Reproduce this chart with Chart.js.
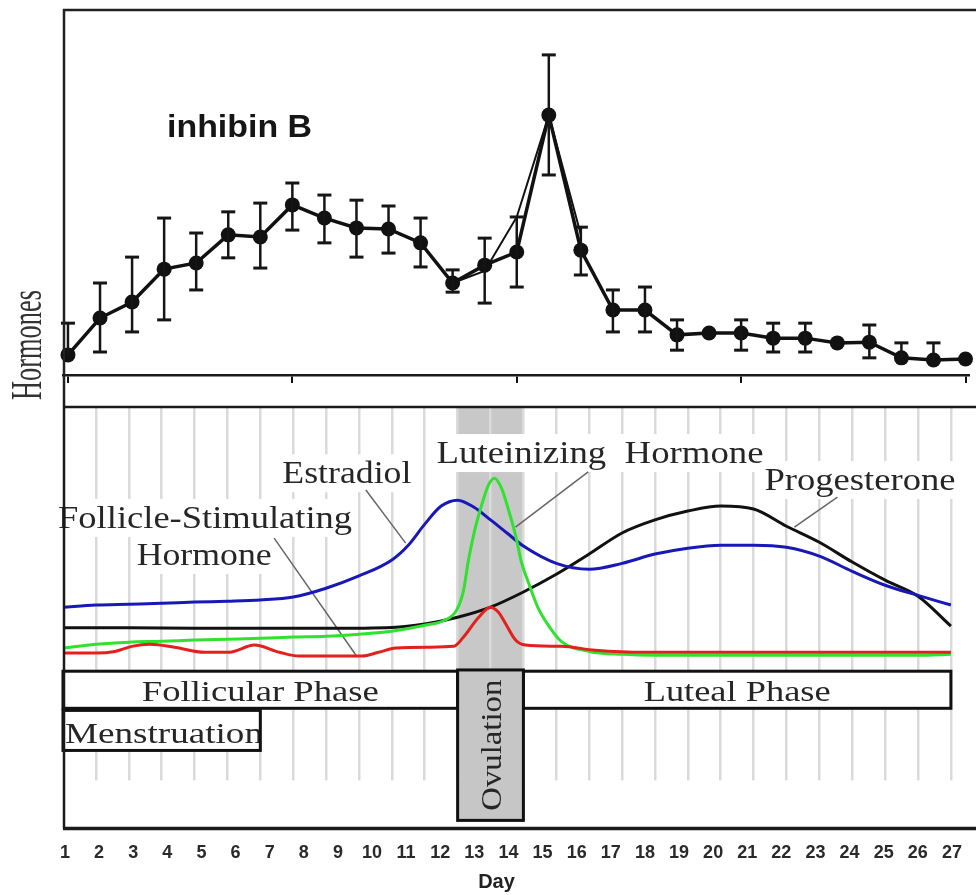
<!DOCTYPE html>
<html>
<head>
<meta charset="utf-8">
<title>Inhibin B and the menstrual cycle</title>
<script src="https://cdn.jsdelivr.net/npm/chart.js@4.4.1/dist/chart.umd.min.js"></script>
<style>
    html, body { margin: 0; padding: 0; background: #fff; overflow: hidden; }
    #wrap { position: relative; width: 976px; height: 895px; }
    canvas { position: absolute; left: 0; }
    #inhibinChart { top: 0; }
    #cycleChart { top: 400px; }
</style>
</head>
<body>
<div id="wrap">
    <canvas id="inhibinChart" width="976" height="400"></canvas>
    <canvas id="cycleChart" width="976" height="495"></canvas>
</div>
<script>
// ---- inhibin B (relative units), one sample per day ----
const inhibinDays = [0, 1, 2, 3, 4, 5, 6, 7, 8, 9, 10, 11, 12, 13, 14, 15, 16, 17, 18, 19, 20, 21, 22, 23, 24, 25, 26, 27, 28];
const inhibinMean = [5.5, 15.6, 20.0, 29.0, 30.7, 38.4, 37.8, 46.6, 43.0, 40.3, 40.0, 36.2, 25.2, 30.1, 33.7, 71.2, 34.2, 17.8, 17.8, 11.0, 11.5, 11.5, 10.1, 10.1, 8.8, 9.0, 4.7, 4.1, 4.4];
const inhibinUpper = [14.2, 25.2, 32.3, 43.0, 38.9, 44.7, 47.1, 52.6, 49.3, 47.9, 46.3, 43.0, 28.8, 37.5, 43.3, 87.7, 40.5, 23.3, 24.1, 15.1, null, 15.1, 14.2, 14.2, null, 13.7, 8.8, 8.8, null];
const inhibinLower = [5.5, 6.3, 11.8, 15.1, 23.3, 32.1, 29.3, 39.7, 36.2, 32.3, 33.4, 29.6, 22.7, 19.7, 24.1, 54.8, 27.4, 11.8, 11.8, 6.8, null, 6.8, 6.3, 6.3, null, 4.7, 4.7, 4.1, null];
// second trace drawn around the peak
const inhibinAlt = [null, null, null, null, null, null, null, null, null, null, null, null, 25.2, 28.5, 43.3, 71.2, 38.4];
const inhibinTicks = [0, 7, 14, 21, 28];

// ---- cycle panel ----
const cycleDays = [1, 2, 3, 4, 5, 6, 7, 8, 9, 10, 11, 12, 13, 14, 15, 16, 17, 18, 19, 20, 21, 22, 23, 24, 25, 26, 27];
const cycleGrid = [1, 2, 3, 4, 5, 6, 7, 8, 9, 10, 11, 12, 13, 14, 15, 16, 17, 18, 19, 20, 21, 22, 23, 24, 25, 26, 27];

const estradiolPos = [0, 1, 2, 3, 4, 5, 6, 7, 8, 9, 10, 10.5, 11, 11.5, 12, 12.5, 13, 13.5, 14, 15, 16, 17, 18, 19, 20, 21, 22, 23, 24, 25, 26, 27];
const estradiolLevel = [52.5, 53.0, 53.2, 53.4, 53.7, 53.9, 54.2, 54.9, 57.0, 59.9, 63.7, 67.2, 72.2, 76.5, 77.9, 76.2, 73.2, 70.1, 67.0, 62.9, 61.5, 62.9, 65.1, 66.5, 67.2, 67.2, 66.7, 64.6, 61.0, 57.7, 55.3, 53.0];

const lhPos = [0, 1, 2, 3, 4, 5, 6, 7, 8, 9, 10, 11, 11.6, 11.97, 12.18, 12.33, 12.52, 12.73, 12.94, 13.12, 13.33, 13.55, 13.76, 13.94, 14.15, 14.45, 14.76, 15.15, 16, 17, 18, 20, 22, 24, 26, 27];
const lhLevel = [42.8, 43.7, 44.2, 44.4, 44.7, 44.9, 45.1, 45.4, 45.6, 46.1, 46.8, 48.2, 49.4, 51.8, 56.5, 63.7, 70.8, 76.7, 81.5, 83.1, 80.8, 75.5, 69.6, 63.2, 58.4, 52.3, 48.2, 44.4, 42.0, 41.3, 41.1, 41.1, 41.1, 41.1, 41.1, 41.3];

const fshPos = [0, 1, 1.58, 2.09, 2.64, 3.39, 4.3, 5.06, 5.82, 6.58, 7.18, 8.39, 9.09, 9.6, 10.12, 11.12, 11.88, 12.18, 12.64, 13.0, 13.24, 13.45, 13.76, 14.06, 15.15, 16.18, 17.7, 20, 23, 27];
const fshLevel = [41.6, 41.6, 42.0, 43.2, 43.7, 43.0, 41.8, 41.8, 43.5, 41.8, 40.9, 40.9, 40.9, 41.8, 42.8, 43.0, 43.2, 45.4, 50.1, 52.5, 51.3, 48.7, 44.7, 43.5, 43.2, 42.3, 41.8, 41.8, 41.8, 41.8];

const progesteronePos = [0, 2, 4, 6, 8, 10, 11, 12, 13, 14, 15, 16, 17, 18, 19, 20, 21, 22, 23, 24, 25, 26, 27];
const progesteroneLevel = [47.6, 47.6, 47.5, 47.5, 47.5, 47.7, 48.5, 50.1, 52.5, 56.1, 60.3, 65.1, 70.1, 73.2, 75.3, 76.5, 75.8, 71.7, 67.9, 63.2, 58.9, 55.1, 48.0];

// curve labels (text, left edge, baseline, drawn width) and their pointer lines
const curveLabels = [
    { text: 'Estradiol', x: 6.67, y: 81.9, w: 129 },
    { text: 'Luteinizing  Hormone', x: 11.36, y: 86.7, w: 327 },
    { text: 'Progesterone', x: 21.33, y: 80.3, w: 191 },
    { text: 'Follicle-Stimulating', x: -0.15, y: 71.3, w: 294 },
    { text: 'Hormone', x: 2.24, y: 62.5, w: 135 }
];
const pointerLines = [
    [9.21, 80.3, 10.42, 67.7],
    [6.42, 68.9, 8.91, 41.1],
    [15.97, 84.6, 13.76, 71.5],
    [23.55, 78.6, 22.24, 71.5]
];
// phase boxes: start, end, top, bottom
const phaseBoxes = [
    { text: 'Follicular Phase', x0: 0, x1: 12, top: 37.3, bottom: 28.5, w: 237 },
    { text: 'Luteal Phase', x0: 14, x1: 27, top: 37.3, bottom: 28.5, w: 187 },
    { text: 'Menstruation', x0: 0, x1: 6, top: 28.0, bottom: 18.5, w: 198, left: true }
];
const ovulation = { text: 'Ovulation', x0: 12, x1: 14, top: 37.6, bottom: 1.9, w: 131 };

const SERIF = '"Liberation Serif", "Times New Roman", serif';
const SANS = '"Liberation Sans", Arial, sans-serif';
const INK = '#262626';

// draws text squeezed/stretched horizontally to a given width
function fitText(ctx, text, x, y, width, font, color, align) {
    ctx.save();
    ctx.font = font;
    const w = ctx.measureText(text).width;
    ctx.translate(x, y);
    ctx.scale(width / w, 1);
    ctx.fillStyle = color;
    ctx.textBaseline = 'alphabetic';
    ctx.textAlign = align || 'left';
    ctx.fillText(text, 0, 0);
    ctx.restore();
}

function hLine(ctx, x0, x1, y, width) {
    ctx.beginPath();
    ctx.moveTo(x0, y);
    ctx.lineTo(x1, y);
    ctx.lineWidth = width;
    ctx.stroke();
}

function vLine(ctx, x, y0, y1, width) {
    ctx.beginPath();
    ctx.moveTo(x, y0);
    ctx.lineTo(x, y1);
    ctx.lineWidth = width;
    ctx.stroke();
}

// ---------------- top panel ----------------
const errorBars = {
    id: 'errorBars',
    afterDatasetsDraw(chart) {
        const ctx = chart.ctx;
        const y = chart.scales.y;
        const pts = chart.getDatasetMeta(0).data;
        ctx.save();
        ctx.strokeStyle = '#151515';
        pts.forEach((p, i) => {
            if (inhibinUpper[i] == null) return;
            const yt = y.getPixelForValue(inhibinUpper[i]);
            const yb = y.getPixelForValue(inhibinLower[i]);
            vLine(ctx, p.x, yt, yb, 2.5);
            if (inhibinUpper[i] > inhibinMean[i]) hLine(ctx, p.x - 7, p.x + 7, yt, 3);
            if (inhibinLower[i] < inhibinMean[i]) hLine(ctx, p.x - 7, p.x + 7, yb, 3);
        });
        ctx.restore();
    },
    afterDraw(chart) {
        const ctx = chart.ctx;
        const a = chart.chartArea;
        ctx.save();
        ctx.strokeStyle = '#222';
        hLine(ctx, a.left, chart.width, a.top, 2.5);
        vLine(ctx, a.left + 1, a.top - 1, chart.height, 2.5);

        const x = chart.scales.x, y = chart.scales.y;
        fitText(ctx, 'inhibin B', x.getPixelForValue(3.09), y.getPixelForValue(65.2), 145,
            'bold 32px ' + SANS, '#151515');

        // vertical axis caption
        ctx.translate(41, 345);
        ctx.rotate(-Math.PI / 2);
        fitText(ctx, 'Hormones', 0, 0, 110, '44px ' + SERIF, '#333', 'center');
        ctx.restore();
    }
};

new Chart(document.getElementById('inhibinChart'), {
    type: 'line',
    data: {
        datasets: [{
            label: 'inhibin B',
            data: inhibinDays.map((d, i) => ({ x: d, y: inhibinMean[i] })),
            borderColor: '#111',
            backgroundColor: '#111',
            borderWidth: 3.5,
            pointRadius: 7.5,
            pointBackgroundColor: '#111',
            pointBorderWidth: 0,
            tension: 0,
            clip: false
        }, {
            label: 'inhibin B (trace)',
            data: inhibinDays.slice(0, inhibinAlt.length).map((d, i) => ({ x: d, y: inhibinAlt[i] })),
            borderColor: '#111',
            borderWidth: 2,
            pointRadius: 0,
            tension: 0,
            spanGaps: false,
            clip: false
        }]
    },
    options: {
        responsive: false,
        animation: false,
        events: [],
        layout: { padding: { left: 63, top: 10, right: 0, bottom: 17 } },
        plugins: { legend: { display: false }, tooltip: { enabled: false } },
        scales: {
            x: {
                type: 'linear',
                min: -0.155,
                max: 28.093,
                afterBuildTicks: axis => { axis.ticks = inhibinTicks.map(v => ({ value: v })); },
                ticks: { display: false },
                grid: { drawOnChartArea: false, drawTicks: true, tickLength: 8, color: '#111', lineWidth: 2 },
                border: { display: true, color: '#1a1a1a', width: 2.5 }
            },
            y: { display: false, min: 0, max: 100 }
        }
    },
    plugins: [errorBars]
});

// ---------------- cycle panel ----------------
const cycleDecor = {
    id: 'cycleDecor',
    beforeDraw(chart) {
        // shaded ovulation window, behind the grid
        const ctx = chart.ctx;
        const x = chart.scales.x, y = chart.scales.y;
        ctx.save();
        ctx.fillStyle = '#c8c8c8';
        const x0 = x.getPixelForValue(ovulation.x0), x1 = x.getPixelForValue(ovulation.x1);
        ctx.fillRect(x0, chart.chartArea.top, x1 - x0, y.getPixelForValue(ovulation.bottom) - chart.chartArea.top);
        ctx.restore();
    },
    beforeDatasetsDraw(chart) {
        const ctx = chart.ctx;
        const a = chart.chartArea;
        const x = chart.scales.x, y = chart.scales.y;
        ctx.save();

        // grid stops above the axis
        ctx.fillStyle = '#fff';
        const yCut = y.getPixelForValue(11.4);
        ctx.fillRect(a.left, yCut, a.right - a.left, a.bottom - yCut);

        // label backgrounds, then labels
        const labelFont = '32px ' + SERIF;
        curveLabels.forEach(l => {
            const lx = x.getPixelForValue(l.x), ly = y.getPixelForValue(l.y);
            ctx.fillStyle = '#fff';
            ctx.fillRect(lx - 3, ly - 29, l.w + 6, 38);
        });
        curveLabels.forEach(l => {
            fitText(ctx, l.text, x.getPixelForValue(l.x), y.getPixelForValue(l.y), l.w, labelFont, INK);
        });

        ctx.strokeStyle = '#666';
        pointerLines.forEach(p => {
            ctx.beginPath();
            ctx.moveTo(x.getPixelForValue(p[0]), y.getPixelForValue(p[1]));
            ctx.lineTo(x.getPixelForValue(p[2]), y.getPixelForValue(p[3]));
            ctx.lineWidth = 1.5;
            ctx.stroke();
        });

        // phase boxes
        const boxFont = '30px ' + SERIF;
        phaseBoxes.forEach(b => {
            const bx0 = x.getPixelForValue(b.x0), bx1 = x.getPixelForValue(b.x1);
            const by0 = y.getPixelForValue(b.top), by1 = y.getPixelForValue(b.bottom);
            ctx.fillStyle = '#fff';
            ctx.fillRect(bx0, by0, bx1 - bx0, by1 - by0);
            ctx.save();
            ctx.beginPath();
            ctx.rect(bx0, by0, bx1 - bx0, by1 - by0);
            ctx.clip();
            const base = by1 - 7;
            if (b.left) fitText(ctx, b.text, bx0 + 2, base, b.w, boxFont, INK);
            else fitText(ctx, b.text, (bx0 + bx1) / 2, base, b.w, boxFont, INK, 'center');
            ctx.restore();
            ctx.strokeStyle = '#111';
            ctx.lineWidth = 3;
            ctx.strokeRect(bx0, by0, bx1 - bx0, by1 - by0);
        });

        const ox0 = x.getPixelForValue(ovulation.x0), ox1 = x.getPixelForValue(ovulation.x1);
        const oy0 = y.getPixelForValue(ovulation.top), oy1 = y.getPixelForValue(ovulation.bottom);
        ctx.fillStyle = '#c6c6c6';
        ctx.fillRect(ox0, oy0, ox1 - ox0, oy1 - oy0);
        ctx.strokeStyle = '#111';
        ctx.lineWidth = 3;
        ctx.strokeRect(ox0, oy0, ox1 - ox0, oy1 - oy0);
        ctx.save();
        ctx.translate((ox0 + ox1) / 2 + 10, (oy0 + oy1) / 2);
        ctx.rotate(-Math.PI / 2);
        fitText(ctx, ovulation.text, 0, 0, ovulation.w, boxFont, INK, 'center');
        ctx.restore();

        ctx.restore();
    },
    afterDraw(chart) {
        const ctx = chart.ctx;
        const a = chart.chartArea;
        ctx.save();
        ctx.strokeStyle = '#1a1a1a';
        hLine(ctx, a.left, chart.width, a.top, 2.5);
        vLine(ctx, a.left + 1, 0, a.bottom, 2.5);
        hLine(ctx, a.left, chart.width, a.bottom, 3.5);

        ctx.fillStyle = '#222';
        ctx.font = 'bold 20px ' + SANS;
        ctx.textAlign = 'center';
        ctx.textBaseline = 'alphabetic';
        ctx.fillText('Day', chart.scales.xDay.getPixelForValue(13.65), a.bottom + 60);
        ctx.restore();
    }
};

const curve = (pos, level) => pos.map((p, i) => ({ x: p, y: level[i] }));

new Chart(document.getElementById('cycleChart'), {
    type: 'line',
    data: {
        datasets: [
            { label: 'Follicle-Stimulating Hormone', data: curve(fshPos, fshLevel), borderColor: '#e3201c' },
            { label: 'Luteinizing Hormone', data: curve(lhPos, lhLevel), borderColor: '#2fe22f' },
            { label: 'Estradiol', data: curve(estradiolPos, estradiolLevel), borderColor: '#1818b8' },
            { label: 'Progesterone', data: curve(progesteronePos, progesteroneLevel), borderColor: '#111' }
        ].map(ds => Object.assign(ds, {
            borderWidth: 3,
            pointRadius: 0,
            cubicInterpolationMode: 'monotone',
            fill: false
        }))
    },
    options: {
        responsive: false,
        animation: false,
        events: [],
        layout: { padding: { left: 63, top: 7, right: 0, bottom: 17 } },
        plugins: { legend: { display: false }, tooltip: { enabled: false } },
        scales: {
            x: {
                type: 'linear',
                min: 0,
                max: 27.667,
                afterBuildTicks: axis => { axis.ticks = cycleGrid.map(v => ({ value: v })); },
                ticks: { display: false },
                grid: { color: '#dadada', lineWidth: 2.5, drawTicks: false },
                border: { display: false }
            },
            xDay: {
                type: 'linear',
                position: 'bottom',
                min: 0.9416,
                max: 27.6135,
                afterBuildTicks: axis => { axis.ticks = cycleDays.map(v => ({ value: v })); },
                ticks: { color: '#2a2a2a', padding: 14, font: { family: SANS, size: 18, weight: 'bold' } },
                grid: { display: false, drawTicks: false },
                border: { display: false }
            },
            y: { display: false, min: 0, max: 100 }
        }
    },
    plugins: [cycleDecor]
});
</script>
</body>
</html>
